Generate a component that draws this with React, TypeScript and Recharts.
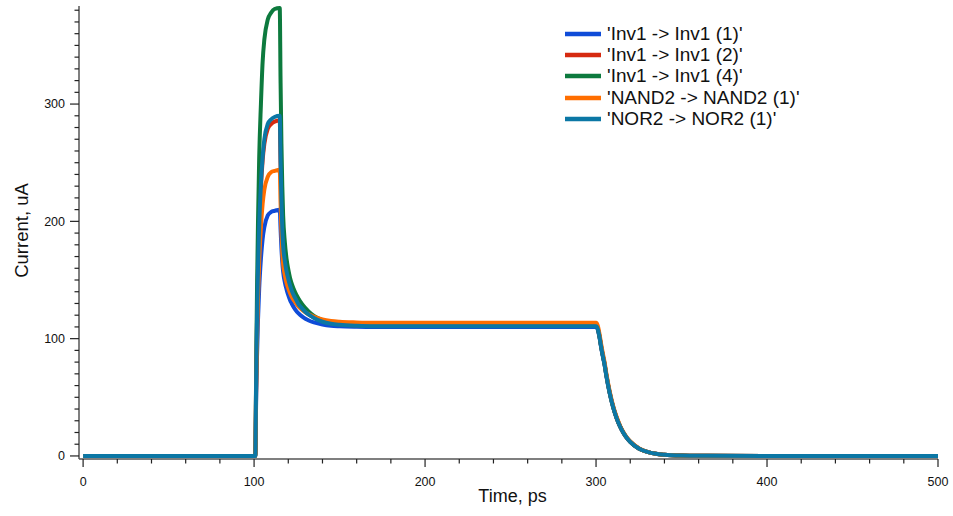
import React from 'react';
import { LineChart, Line, XAxis, YAxis, Legend } from 'recharts';

const times = [0, 100.7, 101.2, 101.7, 102.3, 103, 104, 105, 106, 108, 110, 112, 115,
  115.5, 116, 116.5, 117, 118, 119, 120, 121, 122, 124, 126, 128, 130, 132, 135, 140, 145, 150, 160, 170,
  200,
  300, 301, 302, 303, 304, 305, 306, 308, 310, 312, 314, 316, 318, 320, 325, 330, 335, 340, 350, 360,
  400, 500];

const inv1To1 = [0, 0, 46, 84, 116, 143, 168, 185, 195, 205, 208, 209, 210,
  193, 177, 165, 157, 148, 142, 137, 133, 130, 125, 121.5, 119, 117, 115.5, 113.8, 112, 111, 110.6, 110.2, 110,
  110,
  110, 107.8, 101.2, 92.4, 84.7, 77.6, 68.5, 53.4, 41.5, 32.3, 25.2, 19.6, 15.3, 12.0, 6.4, 3.4, 1.8, 1.0, 0.3, 0.1,
  0, 0];

const inv1To2 = [0, 0, 63, 114, 157, 194, 229, 252, 266, 279, 283, 285, 286,
  247.5, 216, 192, 178, 165, 156.5, 150, 145, 141, 134.6, 129.4, 125.9, 122.9, 120.6, 118, 114.9, 113.1, 112.2, 111.4, 111,
  111,
  111, 108.8, 102.1, 93.2, 85.5, 78.3, 69.2, 53.8, 41.8, 32.6, 25.4, 19.8, 15.4, 12.1, 6.4, 3.4, 1.8, 1.0, 0.3, 0.1,
  0, 0];

const inv1To4 = [0, 0, 70, 140, 200, 255, 300, 336, 355, 372, 378, 381, 382,
  318, 266, 230, 205, 182, 168, 159, 152, 147, 139.5, 134, 129.5, 126, 123, 119.5, 115.8, 113.7, 112.6, 111.6, 111,
  111,
  111, 108.8, 102.1, 93.2, 85.5, 78.3, 69.2, 53.8, 41.8, 32.6, 25.4, 19.8, 15.4, 12.1, 6.4, 3.4, 1.8, 1.0, 0.3, 0.1,
  0, 0];

const nand2To1 = [0, 0, 54, 98, 134, 166, 195, 215, 227, 238, 242, 243, 244,
  215.3, 191.8, 173, 163.1, 154, 147.4, 142.9, 139, 135.7, 131.1, 127.2, 124.6, 122.4, 120.7, 118.7, 116.4, 115.1, 114.4, 113.8, 113.5,
  113.5,
  113.5, 111.2, 104.4, 95.3, 87.4, 80.0, 70.7, 55.0, 42.8, 33.4, 26.0, 20.2, 15.8, 12.4, 6.6, 3.5, 1.8, 1.0, 0.3, 0.1,
  0, 0];

const nor2To1 = [0, 0, 64, 116, 160, 197, 232, 255, 270, 283, 287, 289, 290,
  250.5, 218.2, 193, 179, 166.1, 157.2, 150.9, 145.5, 141, 134.7, 129.3, 125.8, 122.7, 120.4, 117.7, 114.4, 112.7, 111.8, 110.9, 110.5,
  110.5,
  110.5, 108.3, 101.7, 92.8, 85.1, 77.9, 68.8, 53.6, 41.7, 32.5, 25.3, 19.7, 15.4, 12.0, 6.4, 3.4, 1.8, 1.0, 0.3, 0.1,
  0, 0];

const seriesNames = ["'Inv1 -> Inv1 (1)'", "'Inv1 -> Inv1 (2)'", "'Inv1 -> Inv1 (4)'", "'NAND2 -> NAND2 (1)'", "'NOR2 -> NOR2 (1)'"];
const seriesKeys = ['s0', 's1', 's2', 's3', 's4'];
const seriesColors = ['#0f4cd8', '#d62a10', '#0d7a3e', '#ff6e00', '#0b77a5'];
const seriesValues = [inv1To1, inv1To2, inv1To4, nand2To1, nor2To1];

const xMajorTicks = [0, 100, 200, 300, 400, 500];
const yMajorTicks = [0, 100, 200, 300];
const xTicks = Array.from({ length: 26 }, (_, i) => i * 20);
const yTicks = Array.from({ length: 39 }, (_, i) => i * 10);

const data = times.map((t, i) => {
  const row: Record<string, number> = { t };
  seriesKeys.forEach((k, j) => { row[k] = seriesValues[j][i]; });
  return row;
});

const FONT = '"Liberation Sans", Arial, Helvetica, sans-serif';

const XTick = (props: any) => {
  const { x, y, payload } = props;
  const v = payload.value;
  const major = xMajorTicks.includes(v);
  return (
    <g>
      <line x1={x} y1={y} x2={x} y2={y + (major ? 8 : 4.5)} stroke="#222" strokeWidth={1.2} />
      {major && (
        <text x={x} y={y + 27} textAnchor="middle" fontSize={12.5} fill="#111" fontFamily={FONT}>{v}</text>
      )}
    </g>
  );
};

const YTick = (props: any) => {
  const { x, y, payload } = props;
  const v = payload.value;
  const major = yMajorTicks.includes(v);
  return (
    <g>
      <line x1={x} y1={y} x2={x - (major ? 9 : 4.5)} y2={y} stroke="#222" strokeWidth={1.2} />
      {major && (
        <text x={x - 14} y={y + 4.4} textAnchor="end" fontSize={12.5} fill="#111" fontFamily={FONT}>{v}</text>
      )}
    </g>
  );
};

const LegendContent = () => (
  <div style={{ fontFamily: FONT, fontSize: 19, color: '#111' }}>
    {seriesNames.map((n, i) => (
      <div key={n} style={{ display: 'flex', alignItems: 'center', height: 21.3, whiteSpace: 'nowrap' }}>
        <svg width={36} height={6} style={{ display: 'block' }}>
          <line x1={0} y1={3} x2={36} y2={3} stroke={seriesColors[i]} strokeWidth={4.5} />
        </svg>
        <span style={{ marginLeft: 6 }}>{n}</span>
      </div>
    ))}
  </div>
);

export default function App() {
  return (
    <div style={{ position: 'absolute', left: 0, top: 0, background: '#fff' }}>
      <LineChart width={953} height={516} data={data} margin={{ top: 6, right: 15, left: 0, bottom: 0 }}>
        <XAxis
          dataKey="t"
          type="number"
          domain={[-2.4, 500]}
          ticks={xTicks}
          interval={0}
          tickSize={0}
          tickMargin={0}
          height={57}
          tick={<XTick />}
          tickLine={false}
          axisLine={{ stroke: '#555', strokeWidth: 1.5 }}
          label={{
            content: (p: any) => (
              <text x={p.viewBox.x + p.viewBox.width / 2 + 4} y={p.viewBox.y + 43} textAnchor="middle" fontSize={18} fill="#111" fontFamily={FONT}>Time, ps</text>
            ),
          }}
        />
        <YAxis
          type="number"
          domain={[-2.6, 383.6]}
          ticks={yTicks}
          interval={0}
          tickSize={0}
          tickMargin={0}
          width={79}
          tick={<YTick />}
          tickLine={false}
          axisLine={{ stroke: '#555', strokeWidth: 1.5 }}
          label={{
            content: (p: any) => {
              const cx = 21;
              const cy = p.viewBox.y + p.viewBox.height / 2 - 2;
              return (
                <text x={cx} y={cy} transform={`rotate(-90 ${cx} ${cy})`} textAnchor="middle" dominantBaseline="central" fontSize={18.5} fill="#111" fontFamily={FONT}>Current, uA</text>
              );
            },
          }}
        />
        <Legend
          layout="vertical"
          align="center"
          verticalAlign="middle"
          wrapperStyle={{ left: 565, top: 23, width: 330, height: 110 }}
          content={<LegendContent />}
        />
        {seriesKeys.map((k, i) => (
          <Line
            key={k}
            dataKey={k}
            name={seriesNames[i]}
            type="monotone"
            stroke={seriesColors[i]}
            strokeWidth={4}
            dot={false}
            activeDot={false}
            isAnimationActive={false}
            strokeLinejoin="round"
          />
        ))}
      </LineChart>
    </div>
  );
}
